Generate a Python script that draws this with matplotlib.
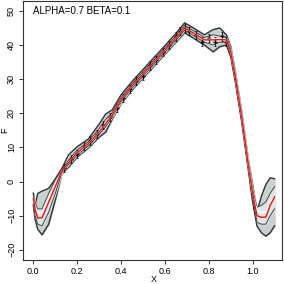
import numpy as np
import matplotlib
matplotlib.use("Agg")
import matplotlib.pyplot as plt

plt.rcParams['font.family'] = ['Liberation Sans', 'DejaVu Sans']

# grid and bands
x = [0.00, 0.008, 0.02, 0.04, 0.07, 0.10, 0.13, 0.16, 0.20, 0.25, 0.30, 0.33, 0.36, 0.40,
     0.45, 0.50, 0.55, 0.60, 0.65, 0.69, 0.73, 0.78, 0.82, 0.85, 0.88, 0.90, 0.92,
     0.95, 0.98, 1.00, 1.02, 1.04, 1.06, 1.08, 1.10]
med = [-5, -8, -10.7, -10.6, -6, -1.5, 3, 5.5, 8.5, 11, 14.5, 17, 19.5, 24,
       28, 31.5, 35, 38.5, 42, 45, 43.5, 41.5, 41.5, 41.6, 41.5, 38, 31,
       19, 5, -3.5, -10, -10.5, -10.4, -7, -4.5]
true_f = [-5, -7.5, -9.2, -9.2, -5, -1, 3, 5.5, 8.5, 11, 14.5, 17, 19.5, 24,
          28, 31.5, 35, 38.5, 42, 45, 43.5, 41.5, 41.8, 41.8, 41.5, 38, 31,
          19, 5, -3.5, -8.5, -9, -9, -6, -4.5]
in_lo = [-6.5, -10, -12.5, -13, -9, -3.5, 2.6, 5, 7.8, 10.4, 13.8, 16, 19, 23.4,
         27.4, 30.9, 34.4, 37.9, 41.4, 44.3, 42.8, 40.8, 40, 40.8, 40.8, 37.3, 30.3,
         18.3, 4.3, -4.5, -12, -12.5, -12.5, -10, -8]
in_hi = [-4.5, -6, -8, -8, -3.5, 0.5, 3.4, 6.2, 9.2, 11.6, 15.5, 18.2, 20.2, 24.6,
         28.6, 32.1, 35.6, 39.1, 42.6, 45.7, 44.2, 42.2, 43, 42.6, 42.2, 38.7, 31.7,
         19.7, 5.7, -2.5, -7.5, -7, -6, -3.5, -1.5]
out_lo = [-7, -11, -14, -15.6, -12.5, -5.5, 2.2, 4.2, 7.2, 9.8, 13, 14.5, 18.3, 22.8,
          26.8, 30.3, 33.8, 37.3, 40.8, 43.6, 42, 40, 38, 39.5, 40, 36.5, 29.5,
          17.5, 3.5, -6, -13.1, -15, -16, -15, -13]
out_hi = [-3.4, -7, -3.5, -2.8, -2, 0.8, 3.8, 7.8, 10.2, 12.4, 16.8, 19.8, 21, 25.4,
          29.3, 32.8, 36.3, 39.8, 43.4, 46.5, 45, 43, 44.5, 45, 43, 39.5, 32.5,
          20.5, 6.5, -1, -8.7, -4.3, -0.9, 1.1, 0.8]

# observations with error bars in the middle
pts_x = [0.14, 0.17, 0.20, 0.23, 0.26, 0.29, 0.32, 0.35, 0.38, 0.41, 0.44, 0.47,
         0.50, 0.53, 0.56, 0.59, 0.62, 0.65, 0.67, 0.69, 0.71, 0.74, 0.77, 0.80,
         0.83, 0.86, 0.88]
pts_y = [4, 6.5, 8, 10.5, 12, 14, 16.5, 19, 21.5, 24.5, 27, 29.5,
         31, 34, 35.5, 38, 40, 42.5, 44, 45, 44, 43, 41, 42,
         41, 42.5, 41]

fig = plt.figure(figsize=(2.84, 2.84), dpi=100)
ax = fig.add_axes([0.081, 0.0856, 0.912, 0.911])

ax.fill_between(x, out_lo, out_hi, color='#c9d0d0', zorder=1)
ax.plot(x, out_lo, color='#333333', lw=1.0, zorder=2)
ax.plot(x, out_hi, color='#333333', lw=1.0, zorder=2)
ax.fill_between(x, in_lo, in_hi, color='#dfe4e4', zorder=3)
ax.plot(x, in_lo, color='#444444', lw=0.7, zorder=4)
ax.plot(x, in_hi, color='#444444', lw=0.7, zorder=4)
ax.errorbar(pts_x, pts_y, yerr=1.2, fmt='+', color='#111111', ms=3.5, lw=0.6,
            capsize=1.0, capthick=0.6, zorder=5)
ax.plot(x, true_f, color='white', lw=1.0, zorder=6)
ax.plot(x, med, color='#ee1111', lw=1.0, zorder=7)

ax.set_xlim(-0.047, 1.134)
ax.set_ylim(-22.9, 52.9)
ax.set_xticks([0.0, 0.2, 0.4, 0.6, 0.8, 1.0])
ax.set_xticklabels(['0.0', '0.2', '0.4', '0.6', '0.8', '1.0'])
ax.set_yticks([-20, -10, 0, 10, 20, 30, 40, 50])
ax.tick_params(labelsize=6.5, length=3, width=0.7, pad=2, color='#333333')
for lab in ax.get_yticklabels():
    lab.set_rotation(90)
    lab.set_va('center')
for s in ax.spines.values():
    s.set_linewidth(0.8)
    s.set_color('#333333')

ax.text(0.0, 50.1, 'ALPHA=0.7 BETA=0.1', fontsize=7, ha='left', va='center')
fig.text(153.7/284, 1 - 279/284, 'X', fontsize=6.5, ha='center', va='center')
fig.text(5/284, 1 - 130/284, 'F', fontsize=6.5, ha='center', va='center', rotation=90)

fig.savefig('out.png', dpi=100)
